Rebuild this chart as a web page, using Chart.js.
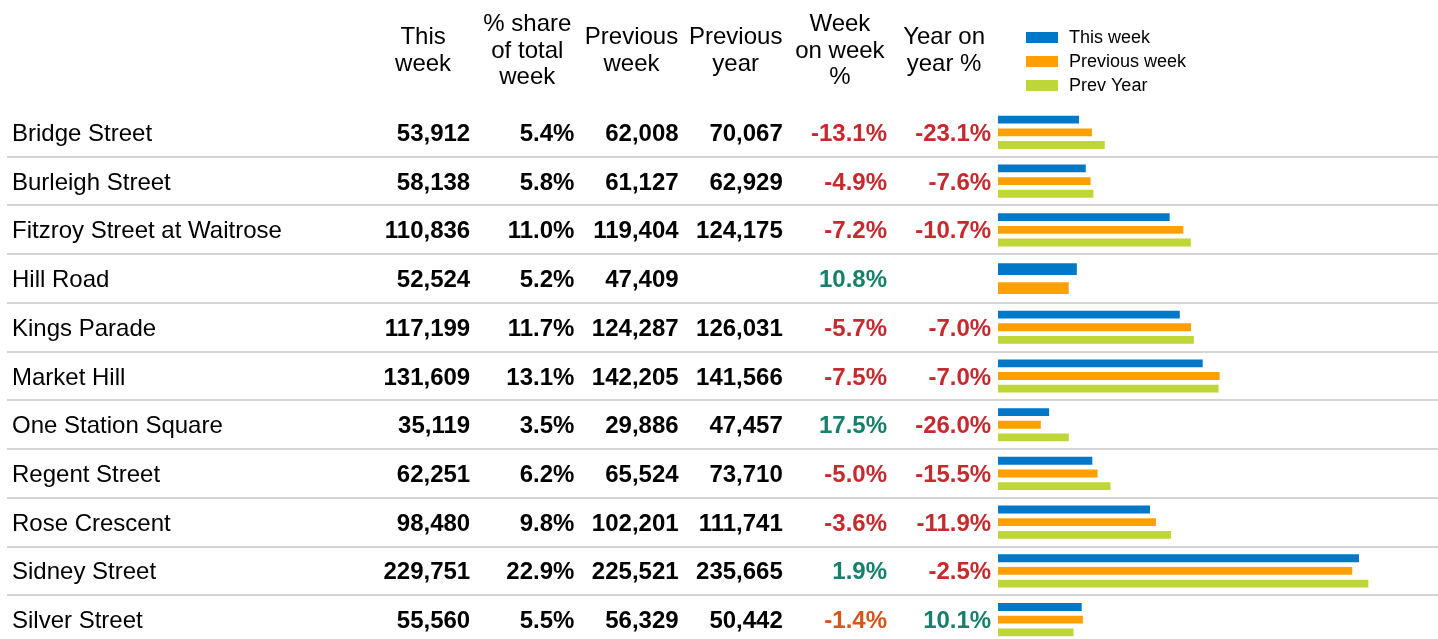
<!DOCTYPE html>
<html>
<head>
<meta charset="utf-8">
<script src="https://cdn.jsdelivr.net/npm/chart.js@4"></script>
<style>
  html, body { margin: 0; padding: 0; background: #fff; overflow: hidden; }
  #wrap { width: 1438px; height: 646px; }
</style>
</head>
<body>
<div id="wrap"><canvas id="myChart" width="1438" height="646"></canvas></div>
<script>
// table data
const stores = ['Bridge Street', 'Burleigh Street', 'Fitzroy Street at Waitrose', 'Hill Road', 'Kings Parade',
    'Market Hill', 'One Station Square', 'Regent Street', 'Rose Crescent', 'Sidney Street', 'Silver Street'];
const thisWeek = [53912, 58138, 110836, 52524, 117199, 131609, 35119, 62251, 98480, 229751, 55560];
const shareOfWeek = [5.4, 5.8, 11.0, 5.2, 11.7, 13.1, 3.5, 6.2, 9.8, 22.9, 5.5];
const prevWeek = [62008, 61127, 119404, 47409, 124287, 142205, 29886, 65524, 102201, 225521, 56329];
const prevYear = [70067, 62929, 124175, null, 126031, 141566, 47457, 73710, 111741, 235665, 50442];
const weekOnWeek = [-13.1, -4.9, -7.2, 10.8, -5.7, -7.5, 17.5, -5.0, -3.6, 1.9, -1.4];
const yearOnYear = [-23.1, -7.6, -10.7, null, -7.0, -7.0, -26.0, -15.5, -11.9, -2.5, 10.1];

const headers = [['This', 'week'], ['% share', 'of total', 'week'], ['Previous', 'week'],
    ['Previous', 'year'], ['Week', 'on week', '%'], ['Year on', 'year %']];

const FONT = '"Liberation Sans", Arial, sans-serif';
const colLeft = 371;
const colWidth = 104.2;

function fmtNum(v) {
    return v == null ? '' : v.toLocaleString('en-US');
}
function fmtPct(v) {
    return v == null ? '' : v.toFixed(1) + '%';
}
function pctColor(v) {
    if (v > 0) return '#17806a';
    if (v > -2) return '#d4561b';
    return '#c42a2e';
}

const tablePlugin = {
    id: 'tableText',
    beforeDatasetsDraw(chart) {
        const ctx = chart.ctx;
        const y = chart.scales.y;
        const area = chart.chartArea;
        const rowH = (area.bottom - area.top) / stores.length;
        ctx.save();
        ctx.strokeStyle = '#d4d4d4';
        ctx.lineWidth = 2;
        stores.forEach((s, i) => {
            const ly = Math.round(y.getPixelForValue(i) + rowH / 2);
            ctx.beginPath();
            ctx.moveTo(7, ly);
            ctx.lineTo(chart.width, ly);
            ctx.stroke();
        });
        ctx.restore();
    },
    afterDraw(chart) {
        const ctx = chart.ctx;
        const y = chart.scales.y;
        ctx.save();

        // column headers
        ctx.font = '24px ' + FONT;
        ctx.fillStyle = '#000';
        ctx.textAlign = 'center';
        ctx.textBaseline = 'alphabetic';
        headers.forEach((lines, c) => {
            const cx = colLeft + colWidth * (c + 0.5);
            lines.forEach((t, k) => {
                ctx.fillText(t, cx, 57.5 + (k - (lines.length - 1) / 2) * 26.3);
            });
        });

        // rows
        stores.forEach((name, i) => {
            const by = y.getPixelForValue(i) + 8.5;
            ctx.textAlign = 'left';
            ctx.font = '24px ' + FONT;
            ctx.fillStyle = '#000';
            ctx.fillText(name, 12, by);

            ctx.textAlign = 'right';
            ctx.font = 'bold 24px ' + FONT;
            const cells = [fmtNum(thisWeek[i]), fmtPct(shareOfWeek[i]), fmtNum(prevWeek[i]), fmtNum(prevYear[i])];
            cells.forEach((t, c) => {
                ctx.fillText(t, colLeft + colWidth * (c + 1) - 5, by);
            });
            ctx.fillStyle = pctColor(weekOnWeek[i]);
            ctx.fillText(fmtPct(weekOnWeek[i]), colLeft + colWidth * 5 - 5, by);
            if (yearOnYear[i] != null) {
                ctx.fillStyle = pctColor(yearOnYear[i]);
                ctx.fillText(fmtPct(yearOnYear[i]), colLeft + colWidth * 6 - 5, by);
            }
        });

        // legend
        ctx.textAlign = 'left';
        ctx.font = '18px ' + FONT;
        chart.data.datasets.forEach((ds, k) => {
            const cy = 37 + k * 24;
            ctx.fillStyle = ds.backgroundColor;
            ctx.fillRect(1026, cy - 5, 32, 11);
            ctx.fillStyle = '#000';
            ctx.fillText(ds.label, 1069, cy + 5.5);
        });
        ctx.restore();
    }
};

new Chart(document.getElementById('myChart'), {
    type: 'bar',
    data: {
        labels: stores,
        datasets: [
            { label: 'This week', data: thisWeek, backgroundColor: 'rgb(0,120,200)' },
            { label: 'Previous week', data: prevWeek, backgroundColor: 'rgb(255,160,0)' },
            { label: 'Prev Year', data: prevYear, backgroundColor: 'rgb(190,214,56)' }
        ]
    },
    options: {
        indexAxis: 'y',
        responsive: false,
        animation: false,
        devicePixelRatio: 1,
        skipNull: true,
        categoryPercentage: 0.78,
        barPercentage: 0.62,
        layout: { padding: { left: 998, right: 0, top: 108, bottom: 2 } },
        scales: {
            x: { display: false, min: 3000, max: 279400 },
            y: { display: false }
        },
        plugins: {
            legend: { display: false },
            tooltip: { enabled: false }
        }
    },
    plugins: [tablePlugin]
});
</script>
</body>
</html>
